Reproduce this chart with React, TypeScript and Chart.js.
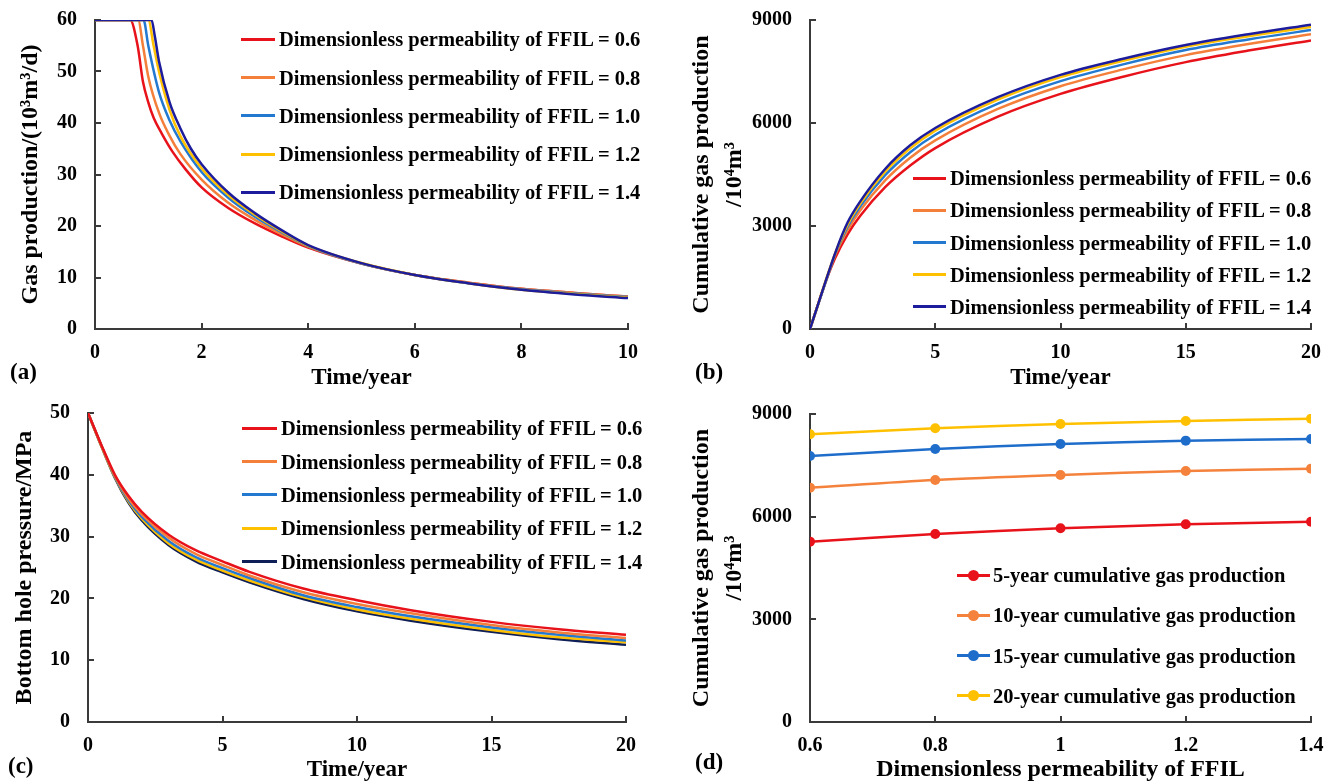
import React, { useEffect, useRef } from 'react';
import { Chart, registerables } from 'chart.js';

Chart.register(...registerables);

const SERIF = '"Liberation Serif", "Times New Roman", serif';
const AXIS_COLOR = '#3a3a3a';
const TEXT_COLOR = '#000000';

// ---------- shared series info ----------
const PERM_LABELS = [
  'Dimensionless permeability of FFIL = 0.6',
  'Dimensionless permeability of FFIL = 0.8',
  'Dimensionless permeability of FFIL = 1.0',
  'Dimensionless permeability of FFIL = 1.2',
  'Dimensionless permeability of FFIL = 1.4',
];
const PERM_COLORS_AB = ['#E8121A', '#F47F3A', '#2378D0', '#FFC000', '#1C1C9C'];
const PERM_COLORS_C = ['#E8121A', '#F47F3A', '#2378D0', '#FFC000', '#0E1E56'];

// ---------- (a) gas production rate, 10^3 m^3/d ----------
const rateTime06 = [0, 0.66, 0.8, 0.9, 1.0, 1.1, 1.25, 1.45, 1.7, 2, 2.5, 3, 3.5, 4, 5, 6, 7, 8, 9, 10];
const rate06 = [60, 60, 55, 48, 44, 41, 38, 34.5, 31, 27.5, 23.5, 20.5, 18, 15.8, 12.7, 10.5, 9.0, 7.8, 7.0, 6.3];
const rateTime08 = [0, 0.81, 0.9, 1.0, 1.2, 1.4, 1.6, 2, 2.5, 3, 3.5, 4, 5, 6, 7, 8, 9, 10];
const rate08 = [60, 60, 55, 49, 42, 37.5, 34, 29, 24.5, 21.2, 18.4, 16, 12.7, 10.5, 9.0, 7.8, 7.0, 6.3];
const rateTime10 = [0, 0.91, 1.0, 1.2, 1.4, 1.6, 2, 2.5, 3, 3.5, 4, 5, 6, 7, 8, 9, 10];
const rate10 = [60, 60, 55, 46, 40.5, 36.5, 30.5, 25.5, 21.8, 18.8, 16.1, 12.7, 10.5, 8.9, 7.7, 6.9, 6.2];
const rateTime12 = [0, 1.0, 1.1, 1.2, 1.4, 1.6, 2, 2.5, 3, 3.5, 4, 5, 6, 7, 8, 9, 10];
const rate12 = [60, 60, 55, 50, 42.5, 37.5, 31.2, 26, 22.2, 19, 16.2, 12.8, 10.5, 8.9, 7.6, 6.8, 6.1];
const rateTime14 = [0, 1.06, 1.12, 1.2, 1.4, 1.6, 1.8, 2, 2.5, 3, 3.5, 4, 5, 6, 7, 8, 9, 10];
const rate14 = [60, 60, 57, 52, 44, 39, 35, 32, 26.5, 22.5, 19.2, 16.3, 12.8, 10.5, 8.9, 7.6, 6.7, 6.0];
const xTicksA = [0, 2, 4, 6, 8, 10];
const yTicksA = [0, 10, 20, 30, 40, 50, 60];

// ---------- (b) cumulative gas production, 10^4 m^3 ----------
const cumTime06 = [0, 0.66, 1, 1.5, 2, 3, 4, 5, 7.5, 10, 12.5, 15, 17.5, 20];
const cum06 = [0, 1445, 2060, 2760, 3290, 4130, 4760, 5270, 6185, 6848, 7348, 7773, 8109, 8407];
const cumTime08 = [0, 0.81, 1, 1.5, 2, 3, 4, 5, 7.5, 10, 12.5, 15, 17.5, 20];
const cum08 = [0, 1774, 2150, 2880, 3450, 4330, 4990, 5494, 6409, 7072, 7561, 7977, 8298, 8582];
const cumTime10 = [0, 0.91, 1, 1.5, 2, 3, 4, 5, 7.5, 10, 12.5, 15, 17.5, 20];
const cum10 = [0, 1993, 2180, 2980, 3570, 4480, 5150, 5659, 6563, 7218, 7707, 8124, 8434, 8708];
const cumTime12 = [0, 1, 1.5, 2, 3, 4, 5, 7.5, 10, 12.5, 15, 17.5, 20];
const cum12 = [0, 2190, 3040, 3650, 4580, 5260, 5776, 6680, 7335, 7813, 8221, 8526, 8796];
const cumTime14 = [0, 1.06, 1.5, 2, 3, 4, 5, 7.5, 10, 12.5, 15, 17.5, 20];
const cum14 = [0, 2320, 3100, 3710, 4660, 5350, 5854, 6752, 7403, 7871, 8270, 8585, 8864];
const xTicksB = [0, 5, 10, 15, 20];
const yTicksB = [0, 3000, 6000, 9000];

// ---------- (c) bottom hole pressure, MPa ----------
const bhpTime = [0, 0.5, 1, 1.5, 2, 3, 4, 5, 6, 8, 10, 12, 15, 17.5, 20];
const bhp06 = [50, 44.8, 40, 36.6, 34, 30.3, 27.8, 26, 24.3, 21.6, 19.7, 18.1, 16.2, 15.0, 14.1];
const bhp08 = [50, 44.7, 39.8, 36.2, 33.6, 29.8, 27.2, 25.4, 23.7, 21.0, 19.1, 17.6, 15.7, 14.5, 13.6];
const bhp10 = [50, 44.7, 39.7, 35.9, 33.2, 29.3, 26.7, 24.9, 23.3, 20.5, 18.6, 17.1, 15.3, 14.1, 13.2];
const bhp12 = [50, 44.6, 39.6, 35.7, 32.9, 28.9, 26.3, 24.5, 22.9, 20.2, 18.2, 16.7, 14.9, 13.7, 12.9];
const bhp14 = [50, 44.6, 39.5, 35.5, 32.6, 28.6, 26.0, 24.2, 22.6, 19.9, 17.9, 16.4, 14.6, 13.4, 12.5];
const xTicksC = [0, 5, 10, 15, 20];
const yTicksC = [0, 10, 20, 30, 40, 50];

// ---------- (d) cumulative production vs permeability ----------
const permValues = [0.6, 0.8, 1.0, 1.2, 1.4];
const cumYear5 = [5270, 5494, 5659, 5776, 5854];
const cumYear10 = [6848, 7072, 7218, 7335, 7403];
const cumYear15 = [7773, 7977, 8124, 8221, 8270];
const cumYear20 = [8407, 8582, 8708, 8796, 8864];
const yearLabels = [
  '5-year cumulative gas production',
  '10-year cumulative gas production',
  '15-year cumulative gas production',
  '20-year cumulative gas production',
];
const yearColors = ['#E8121A', '#F4823C', '#1F6DCB', '#FFC000'];
const xTicksD = [0.6, 0.8, 1.0, 1.2, 1.4];
const yTicksD = [0, 3000, 6000, 9000];

// ---------- helpers ----------
const toPoints = (xs: number[], ys: number[]) => xs.map((x, i) => ({ x, y: ys[i] }));

const inwardTicks = {
  id: 'inwardTicks',
  beforeDatasetsDraw(chart: any) {
    const { ctx, chartArea, scales } = chart;
    const len = 6;
    ctx.save();
    ctx.strokeStyle = AXIS_COLOR;
    ctx.lineWidth = 2;
    const xs = scales.x;
    const ys = scales.y;
    xs.ticks.forEach((t: any) => {
      const px = Math.round(xs.getPixelForValue(t.value));
      ctx.beginPath();
      ctx.moveTo(px, chartArea.bottom);
      ctx.lineTo(px, chartArea.bottom - len);
      ctx.stroke();
    });
    ys.ticks.forEach((t: any) => {
      const py = Math.round(ys.getPixelForValue(t.value));
      ctx.beginPath();
      ctx.moveTo(chartArea.left, py);
      ctx.lineTo(chartArea.left + len, py);
      ctx.stroke();
    });
    ctx.restore();
  },
};

type AxisSpec = {
  min: number;
  max: number;
  ticks: number[];
  title: string | string[];
  titleSize: number;
  fmt?: (v: number) => string;
};

type Frame = { yw: number; top: number; right: number; xh: number; yTitlePad: number; yTitleLH: number };

const clearPadding = (s: any) => {
  s.paddingTop = 0;
  s.paddingBottom = 0;
  s.paddingLeft = 0;
  s.paddingRight = 0;
};

function buildOptions(x: AxisSpec, y: AxisSpec, f: Frame) {
  const tickFont = { family: SERIF, size: 20, weight: 'bold' as const };
  return {
    responsive: false,
    animation: false as const,
    devicePixelRatio: 1,
    layout: { padding: { left: 0, top: f.top, right: f.right, bottom: 0 } },
    plugins: { legend: { display: false }, tooltip: { enabled: false } },
    scales: {
      x: {
        type: 'linear' as const,
        min: x.min,
        max: x.max,
        afterBuildTicks: (s: any) => {
          s.ticks = x.ticks.map((v) => ({ value: v }));
        },
        afterFit: (s: any) => {
          s.height = f.xh;
          clearPadding(s);
        },
        grid: { display: false, drawTicks: false },
        border: { display: true, color: AXIS_COLOR, width: 2 },
        ticks: {
          padding: 12,
          color: TEXT_COLOR,
          font: tickFont,
          maxRotation: 0,
          autoSkip: false,
          callback: (v: any) => (x.fmt ? x.fmt(Number(v)) : String(v)),
        },
        title: {
          display: true,
          text: x.title,
          color: TEXT_COLOR,
          font: { family: SERIF, size: x.titleSize, weight: 'bold' as const, lineHeight: 1.2 },
          padding: { top: 0, bottom: 0 },
        },
      },
      y: {
        type: 'linear' as const,
        min: y.min,
        max: y.max,
        afterBuildTicks: (s: any) => {
          s.ticks = y.ticks.map((v) => ({ value: v }));
        },
        afterFit: (s: any) => {
          s.width = f.yw;
          clearPadding(s);
        },
        grid: { display: false, drawTicks: false },
        border: { display: true, color: AXIS_COLOR, width: 2 },
        ticks: {
          padding: 18,
          color: TEXT_COLOR,
          font: tickFont,
          autoSkip: false,
          callback: (v: any) => String(v),
        },
        title: {
          display: true,
          text: y.title,
          color: TEXT_COLOR,
          font: { family: SERIF, size: y.titleSize, weight: 'bold' as const, lineHeight: f.yTitleLH },
          padding: { top: f.yTitlePad, bottom: 0 },
        },
      },
    },
  };
}

function lineDataset(label: string, color: string, data: { x: number; y: number }[], order: number, points = false) {
  return {
    label,
    data,
    borderColor: color,
    backgroundColor: color,
    borderWidth: 2.5,
    pointRadius: points ? 5 : 0,
    pointHoverRadius: points ? 5 : 0,
    pointBorderWidth: 0,
    pointBackgroundColor: color,
    cubicInterpolationMode: 'monotone' as const,
    fill: false,
    order,
  };
}

function configA() {
  const times = [rateTime06, rateTime08, rateTime10, rateTime12, rateTime14];
  const vals = [rate06, rate08, rate10, rate12, rate14];
  return {
    type: 'line' as const,
    data: {
      datasets: PERM_LABELS.map((l, i) => lineDataset(l, PERM_COLORS_AB[i], toPoints(times[i], vals[i]), 4 - i)),
    },
    options: buildOptions(
      { min: 0, max: 10, ticks: xTicksA, title: 'Time/year', titleSize: 23 },
      { min: 0, max: 60, ticks: yTicksA, title: 'Gas production/(10³m³/d)', titleSize: 24 },
      { yw: 95, top: 20, right: 41, xh: 63, yTitlePad: 16, yTitleLH: 1.2 }
    ),
    plugins: [inwardTicks],
  };
}

function configB() {
  const times = [cumTime06, cumTime08, cumTime10, cumTime12, cumTime14];
  const vals = [cum06, cum08, cum10, cum12, cum14];
  return {
    type: 'line' as const,
    data: {
      datasets: PERM_LABELS.map((l, i) => lineDataset(l, PERM_COLORS_AB[i], toPoints(times[i], vals[i]), 4 - i)),
    },
    options: buildOptions(
      { min: 0, max: 20, ticks: xTicksB, title: 'Time/year', titleSize: 23 },
      { min: 0, max: 9000, ticks: yTicksB, title: ['Cumulative gas production', '/10⁴m³'], titleSize: 24 },
      { yw: 141, top: 20, right: 27, xh: 63, yTitlePad: 17, yTitleLH: 1.35 }
    ),
    plugins: [inwardTicks],
  };
}

function configC() {
  const vals = [bhp06, bhp08, bhp10, bhp12, bhp14];
  return {
    type: 'line' as const,
    data: {
      datasets: PERM_LABELS.map((l, i) => lineDataset(l, PERM_COLORS_C[i], toPoints(bhpTime, vals[i]), i)),
    },
    options: buildOptions(
      { min: 0, max: 20, ticks: xTicksC, title: 'Time/year', titleSize: 23 },
      { min: 0, max: 50, ticks: yTicksC, title: 'Bottom hole pressure/MPa', titleSize: 24 },
      { yw: 88, top: 21, right: 43, xh: 62, yTitlePad: 10, yTitleLH: 1.2 }
    ),
    plugins: [inwardTicks],
  };
}

function configD() {
  const vals = [cumYear5, cumYear10, cumYear15, cumYear20];
  return {
    type: 'line' as const,
    data: {
      datasets: yearLabels.map((l, i) => ({
        ...lineDataset(l, yearColors[i], toPoints(permValues, vals[i]), i, true),
        cubicInterpolationMode: 'default' as const,
        tension: 0.3,
      })),
    },
    options: buildOptions(
      {
        min: 0.6,
        max: 1.4,
        ticks: xTicksD,
        title: 'Dimensionless permeability of FFIL',
        titleSize: 24,
        fmt: (v) => String(Number(v.toFixed(1))),
      },
      { min: 0, max: 9000, ticks: yTicksD, title: ['Cumulative gas production', '/10⁴m³'], titleSize: 24 },
      { yw: 141, top: 22, right: 27, xh: 62, yTitlePad: 17, yTitleLH: 1.35 }
    ),
    plugins: [inwardTicks],
  };
}

// ---------- components ----------
const PANEL_W = 669;
const PANEL_H = 392;

function ChartPanel({ left, top, build }: { left: number; top: number; build: () => any }) {
  const ref = useRef<HTMLCanvasElement | null>(null);
  useEffect(() => {
    if (!ref.current) return;
    const chart = new Chart(ref.current, build());
    return () => chart.destroy();
  }, [build]);
  return (
    <canvas
      ref={ref}
      width={PANEL_W}
      height={PANEL_H}
      style={{ position: 'absolute', left, top, width: PANEL_W, height: PANEL_H }}
    />
  );
}

function PanelTag({ text, left, cy }: { text: string; left: number; cy: number }) {
  return (
    <div
      style={{
        position: 'absolute',
        left,
        top: cy - 13,
        height: 26,
        lineHeight: '26px',
        fontFamily: SERIF,
        fontWeight: 'bold',
        fontSize: 23,
        color: TEXT_COLOR,
        whiteSpace: 'nowrap',
      }}
    >
      {text}
    </div>
  );
}

function LineLegend({
  labels,
  colors,
  lineX,
  lineW,
  textX,
  y0,
  step,
  marker = false,
}: {
  labels: string[];
  colors: string[];
  lineX: number;
  lineW: number;
  textX: number;
  y0: number;
  step: number;
  marker?: boolean;
}) {
  return (
    <>
      {labels.map((label, i) => {
        const cy = y0 + i * step;
        return (
          <React.Fragment key={label}>
            <div
              style={{
                position: 'absolute',
                left: lineX,
                top: cy - 1.5,
                width: lineW,
                height: 3,
                background: colors[i],
              }}
            />
            {marker && (
              <div
                style={{
                  position: 'absolute',
                  left: lineX + lineW / 2 - 5.5,
                  top: cy - 5.5,
                  width: 11,
                  height: 11,
                  borderRadius: '50%',
                  background: colors[i],
                }}
              />
            )}
            <div
              style={{
                position: 'absolute',
                left: textX,
                top: cy - 12,
                height: 24,
                lineHeight: '24px',
                fontFamily: SERIF,
                fontWeight: 'bold',
                fontSize: 20.5,
                color: TEXT_COLOR,
                whiteSpace: 'nowrap',
              }}
            >
              {label}
            </div>
          </React.Fragment>
        );
      })}
    </>
  );
}

export default function App() {
  return (
    <div
      style={{
        position: 'fixed',
        left: 0,
        top: 0,
        width: 1338,
        height: 784,
        background: '#ffffff',
        overflow: 'hidden',
      }}
    >
      <ChartPanel left={0} top={0} build={configA} />
      <ChartPanel left={669} top={0} build={configB} />
      <ChartPanel left={0} top={392} build={configC} />
      <ChartPanel left={669} top={392} build={configD} />

      <LineLegend labels={PERM_LABELS} colors={PERM_COLORS_AB} lineX={241} lineW={34} textX={279} y0={39.3} step={38.25} />
      <LineLegend labels={PERM_LABELS} colors={PERM_COLORS_AB} lineX={913} lineW={33} textX={950} y0={178.3} step={32.1} />
      <LineLegend labels={PERM_LABELS} colors={PERM_COLORS_C} lineX={242} lineW={35} textX={281} y0={428.3} step={33.3} />
      <LineLegend labels={yearLabels} colors={yearColors} lineX={957} lineW={33} textX={993} y0={575} step={40.3} marker />

      <PanelTag text="(a)" left={10} cy={372} />
      <PanelTag text="(b)" left={695} cy={372} />
      <PanelTag text="(c)" left={8} cy={766} />
      <PanelTag text="(d)" left={695} cy={762} />
    </div>
  );
}
